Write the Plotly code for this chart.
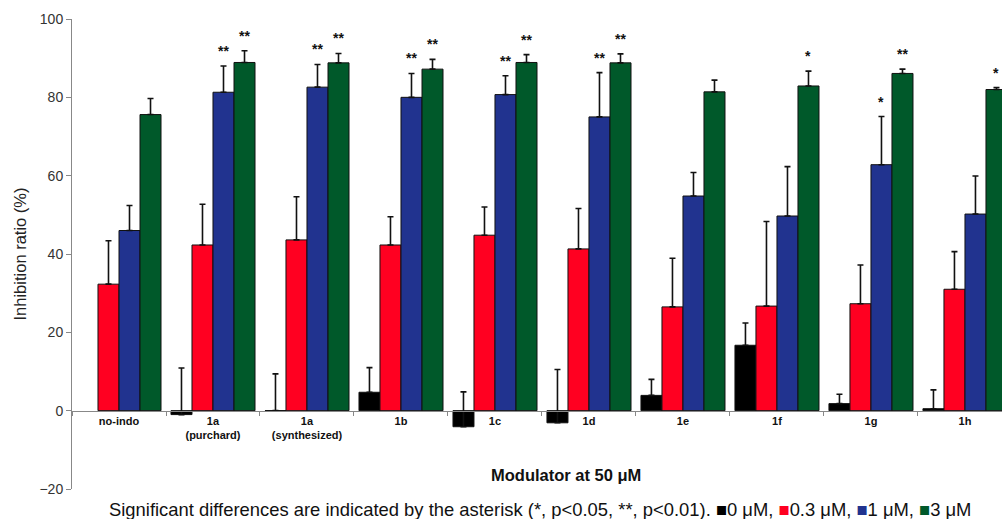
import plotly.graph_objects as go

categories = ["no-indo", "1a<br>(purchard)", "1a<br>(synthesized)", "1b", "1c",
              "1d", "1e", "1f", "1g", "1h"]

val_0uM = [None, -1.0, 0.0, 4.7, -4.1, -3.1, 3.9, 16.7, 1.8, 0.5]
err_0uM = [None, 11.9, 9.4, 6.3, 8.9, 13.6, 4.1, 5.7, 2.4, 4.8]

val_03uM = [32.3, 42.3, 43.6, 42.3, 44.8, 41.3, 26.5, 26.7, 27.3, 31.0]
err_03uM = [11.1, 10.4, 11.0, 7.2, 7.2, 10.3, 12.4, 21.6, 9.9, 9.6]

val_1uM = [46.0, 81.3, 82.6, 80.0, 80.7, 75.0, 54.8, 49.7, 62.8, 50.2]
err_1uM = [6.4, 6.7, 5.8, 6.1, 4.8, 11.3, 6.0, 12.6, 12.3, 9.7]

val_3uM = [75.6, 88.9, 88.8, 87.2, 88.9, 88.8, 81.4, 82.9, 86.1, 82.0]
err_3uM = [4.1, 3.0, 2.4, 2.5, 2.0, 2.3, 3.0, 3.8, 1.1, 0.5]

sig_1uM = ["", "**", "**", "**", "**", "**", "", "", "*", ""]
sig_3uM = ["", "**", "**", "**", "**", "**", "", "*", "**", "*"]

series = [
    ("0 μM", val_0uM, err_0uM, "#000000"),
    ("0.3 μM", val_03uM, err_03uM, "#ff0021"),
    ("1 μM", val_1uM, err_1uM, "#21338f"),
    ("3 μM", val_3uM, err_3uM, "#00592a"),
]

BARGAP = 0.106

fig = go.Figure()
for name, vals, errs, color in series:
    fig.add_trace(go.Bar(
        x=categories, y=vals, name=name,
        marker=dict(color=color, line=dict(color="#111111", width=1)),
        error_y=dict(type="data", symmetric=False, array=errs,
                     arrayminus=[0] * len(errs), color="#111111",
                     thickness=1.6, width=3),
        showlegend=False,
    ))

annotations = []
n_series = len(series)
bar_w = (1 - BARGAP) / n_series
for k, (sig, vals, errs) in enumerate([(sig_1uM, val_1uM, err_1uM),
                                        (sig_3uM, val_3uM, err_3uM)]):
    idx = 2 + k
    for i, s in enumerate(sig):
        if s:
            annotations.append(dict(
                x=i + (idx - (n_series - 1) / 2) * bar_w, y=vals[i] + errs[i],
                xref="x", yref="y", text="<b>" + s + "</b>", showarrow=False,
                yanchor="bottom", yshift=5,
                font=dict(family="Liberation Sans, Arial", size=14, color="#111"),
            ))

annotations.append(dict(
    x=0.531, y=0.03, xref="paper", yref="paper", xanchor="center", yanchor="middle",
    text="<b>Modulator at 50 μM</b>", showarrow=False,
    font=dict(family="Liberation Sans, Arial", size=16.5, color="#111"),
))
legend_txt = ("Significant differences are indicated by the asterisk (*, p<0.05, **, p<0.01). "
              + ", ".join('<span style="color:%s">■</span>%s' % (c, n) for n, _, _, c in series))
annotations.append(dict(
    x=0.503, y=0, xref="paper", yref="paper", xanchor="center", yanchor="middle",
    text=legend_txt, showarrow=False, yshift=-20,
    font=dict(family="Liberation Sans, Arial", size=18.4, color="#111"),
))

fig.update_layout(
    width=1002, height=519,
    margin=dict(l=72, r=0, t=19, b=30),
    barmode="group", bargap=BARGAP, bargroupgap=0,
    plot_bgcolor="white", paper_bgcolor="white",
    font=dict(family="Liberation Sans, Arial", color="#222"),
    annotations=annotations,
    xaxis=dict(
        type="category", range=[-0.5, 9.394], anchor="free", position=20 / 120,
        showline=True, linecolor="#888", linewidth=1,
        ticks="outside", tickson="boundaries", ticklen=4, tickcolor="#888",
        tickfont=dict(family="Liberation Sans, Arial", size=11, color="#111"),
        showgrid=False, zeroline=False,
        tickprefix="<b>", ticksuffix="</b>",
    ),
    yaxis=dict(
        range=[-20, 100], dtick=20, showline=True, linecolor="#888", linewidth=1,
        ticks="outside", ticklen=5, tickcolor="#888", showgrid=False, zeroline=False,
        tickfont=dict(family="Liberation Sans, Arial", size=14, color="#333"),
        title=dict(text="Inhibition ratio (%)", standoff=8,
                   font=dict(family="Liberation Sans, Arial", size=16.5, color="#222")),
    ),
)

# Remove the default page margin so the figure fills the 1002x519 window exactly.
fig.write_html("out.html",
               config={"displayModeBar": False},
               post_script="document.body.style.margin='0';"
                           "document.body.style.overflow='hidden';")
